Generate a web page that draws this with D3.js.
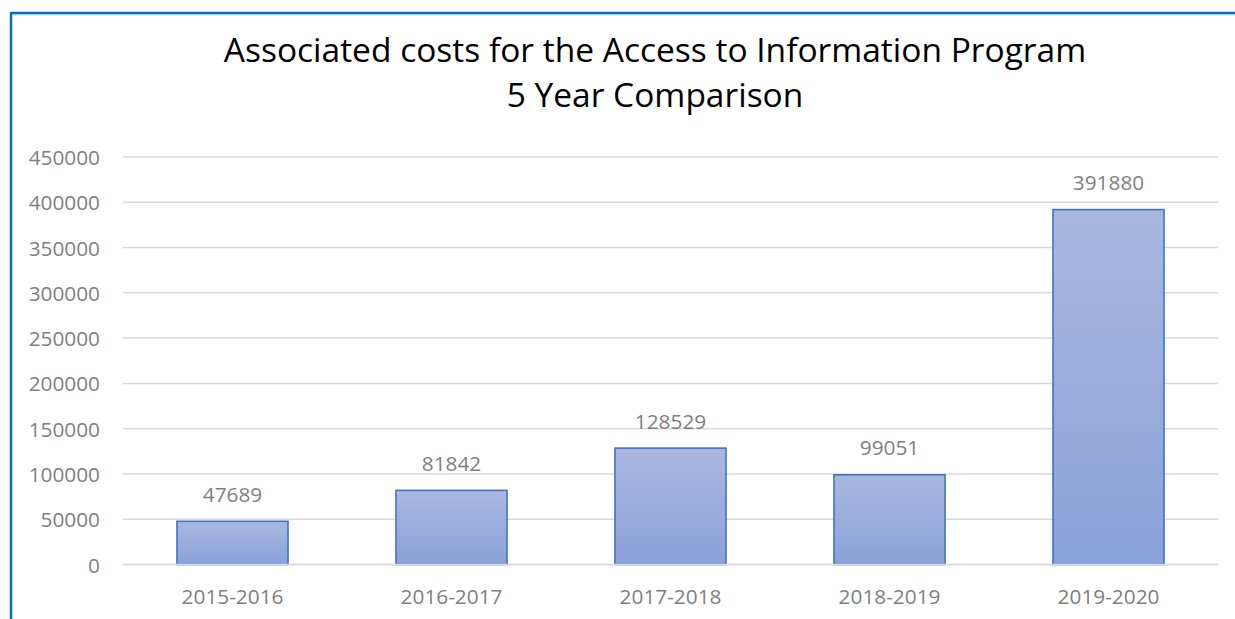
<!DOCTYPE html>
<html><head><meta charset="utf-8">
<script src="https://cdn.jsdelivr.net/npm/d3@7"></script>
<style>
html,body{margin:0;padding:0;background:#fff;}
svg{display:block;}
</style></head>
<body>
<svg id="chart" width="1235" height="619"></svg>
<script>
const titleLines = ["Associated costs for the Access to Information Program", "5 Year Comparison"];
const categories = ["2015-2016", "2016-2017", "2017-2018", "2018-2019", "2019-2020"];
const costs = [47689, 81842, 128529, 99051, 391880];
const yTicks = [0, 50000, 100000, 150000, 200000, 250000, 300000, 350000, 400000, 450000];

const svg = d3.select("#chart");
const W = 1235, H = 619;
const plot = {left: 123, right: 1218, top: 157, bottom: 564.5};
const labelFont = "'Open Sans', sans-serif";
const labelSize = 20.8;

// frame
svg.append("rect").attr("x", 0).attr("y", 0).attr("width", W).attr("height", H).attr("fill", "#fff");
svg.append("line").attr("x1", 11).attr("x2", W).attr("y1", 13).attr("y2", 13).attr("stroke", "#0070c0").attr("stroke-width", 2.5);
svg.append("line").attr("x1", 11).attr("x2", W).attr("y1", 14.8).attr("y2", 14.8).attr("stroke", "#9cc3e8").attr("stroke-width", 1);
svg.append("line").attr("x1", 11).attr("x2", 11).attr("y1", 12).attr("y2", H).attr("stroke", "#0070c0").attr("stroke-width", 2.5);

const defs = svg.append("defs");
const grad = defs.append("linearGradient").attr("id", "barGrad").attr("x1", 0).attr("y1", 0).attr("x2", 0).attr("y2", 1);
grad.append("stop").attr("offset", "0%").attr("stop-color", "#aab8e0");
grad.append("stop").attr("offset", "100%").attr("stop-color", "#8aa1d9");

const x = d3.scaleBand().domain(categories).range([plot.left, plot.right]).paddingInner(0.493).paddingOuter(0.2465);
const y = d3.scaleLinear().domain([0, 450000]).range([plot.bottom, plot.top]);

// gridlines
svg.append("g").selectAll("line").data(yTicks).join("line")
  .attr("x1", plot.left).attr("x2", plot.right)
  .attr("y1", d => y(d)).attr("y2", d => y(d))
  .attr("stroke", "#d9d9d9").attr("stroke-width", 1.5);

// y axis labels
const yAxis = d3.axisLeft(y).tickValues(yTicks).tickSize(0).tickPadding(0).tickFormat(d3.format("d"));
const yg = svg.append("g").attr("transform", `translate(${plot.left - 23},0)`).call(yAxis);
yg.select(".domain").remove();
yg.selectAll("text").attr("font-family", labelFont).attr("font-size", labelSize).attr("fill", "#7f7f7f").attr("dy", "0.36em");

// bars
svg.append("g").selectAll("rect").data(costs).join("rect")
  .attr("x", (d, i) => x(categories[i]))
  .attr("width", x.bandwidth())
  .attr("y", d => y(d))
  .attr("height", d => y(0) - y(d))
  .attr("fill", "url(#barGrad)")
  .attr("stroke", "#4472c4").attr("stroke-width", 1.6);

// baseline redraw
svg.append("line").attr("x1", plot.left).attr("x2", plot.right).attr("y1", y(0)).attr("y2", y(0)).attr("stroke", "#d9d9d9").attr("stroke-width", 1.5);

// value labels
svg.append("g").selectAll("text").data(costs).join("text")
  .attr("x", (d, i) => x(categories[i]) + x.bandwidth() / 2)
  .attr("y", d => y(d) - 19.5)
  .attr("text-anchor", "middle")
  .attr("font-family", labelFont).attr("font-size", labelSize).attr("fill", "#7f7f7f")
  .text(d => d);

// x axis labels
const xAxis = d3.axisBottom(x).tickSize(0).tickPadding(0);
const xg = svg.append("g").attr("transform", `translate(0,${plot.bottom})`).call(xAxis);
xg.select(".domain").remove();
xg.selectAll("text").attr("font-family", labelFont).attr("font-size", labelSize).attr("fill", "#7f7f7f").attr("dy", 0).attr("y", 39);

// title
svg.append("g").selectAll("text").data(titleLines).join("text")
  .attr("x", 655).attr("y", (d, i) => 61.5 + i * 45)
  .attr("text-anchor", "middle")
  .attr("font-family", labelFont).attr("font-size", 33.5).attr("fill", "#000")
  .text(d => d);
</script>
</body></html>
